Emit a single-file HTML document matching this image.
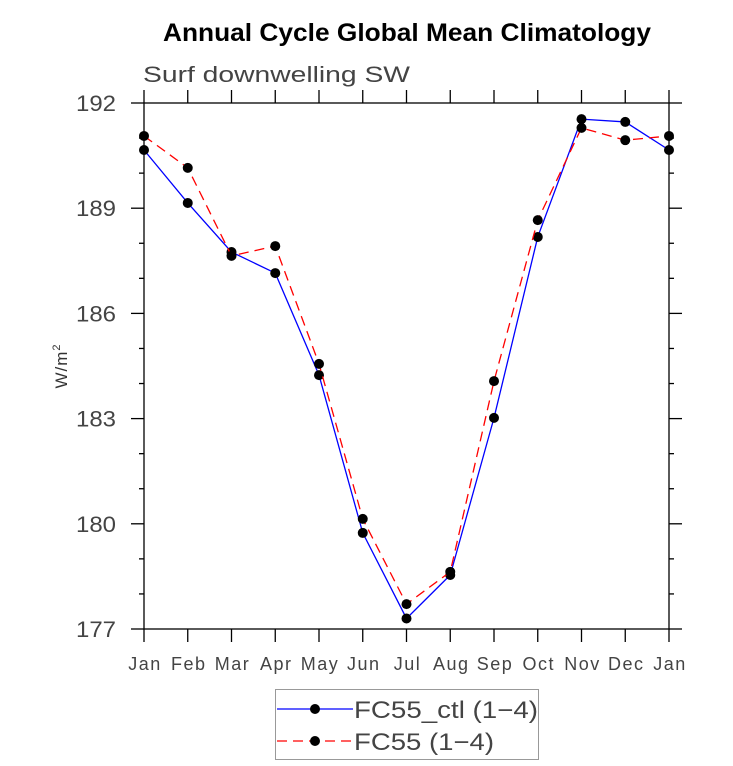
<!DOCTYPE html>
<html><head><meta charset="utf-8"><style>
html,body{margin:0;padding:0;background:#fff;}
svg{display:block;font-family:"Liberation Sans",sans-serif;}
</style></head><body>
<svg id="chart" width="733" height="766">
<text x="407" y="41" text-anchor="middle" font-size="25" font-weight="bold" textLength="488" lengthAdjust="spacingAndGlyphs">Annual Cycle Global Mean Climatology</text>
<text x="143" y="82" font-size="22" fill="#444" textLength="267" lengthAdjust="spacingAndGlyphs">Surf downwelling SW</text>
<text transform="translate(67,366) rotate(-90)" text-anchor="middle" font-size="17" fill="#333" letter-spacing="1">W/m<tspan font-size="11" dy="-7">2</tspan></text>
<g id="axes"></g><g id="series"></g>
<g>
<rect x="275.5" y="689.5" width="263" height="70" fill="none" stroke="#999"/>
<g>
<line x1="277" y1="709" x2="353" y2="709" stroke="#00f" stroke-width="1.3"/><circle cx="315" cy="709" r="5"/>
<text x="354" y="718" font-size="24" fill="#444" textLength="184" lengthAdjust="spacingAndGlyphs">FC55_ctl (1−4)</text></g>
<g>
<line x1="277" y1="741" x2="353" y2="741" stroke="#f00" stroke-width="1.3" stroke-dasharray="10,6"/><circle cx="315" cy="741" r="5"/>
<text x="354" y="750" font-size="24" fill="#444" textLength="140" lengthAdjust="spacingAndGlyphs">FC55 (1−4)</text></g>
</g>
</svg>
<script>
const months=["Jan","Feb","Mar","Apr","May","Jun","Jul","Aug","Sep","Oct","Nov","Dec","Jan"];
const ctlValues=[190.66,189.15,187.75,187.15,184.24,179.74,177.3,178.54,183.02,188.18,191.54,191.46,190.66];
const fc55Values=[191.06,190.15,187.64,187.92,184.56,180.14,177.71,178.63,184.07,188.66,191.29,190.94,191.06];
const yTicks=[177,180,183,186,189,192];
const NS="http://www.w3.org/2000/svg";
const X0=144,X1=669,Y0=629,Y1=103,ymin=177,ymax=192;
const xs=i=>X0+(X1-X0)*i/(months.length-1);
const ys=v=>Y0-(v-ymin)*(Y0-Y1)/(ymax-ymin);
function mk(tag,attrs,parent){const e=document.createElementNS(NS,tag);for(const k in attrs)e.setAttribute(k,attrs[k]);parent.appendChild(e);return e;}
const ax=document.getElementById('axes');
const frame=mk('rect',{x:X0,y:Y1,width:X1-X0,height:Y0-Y1,fill:'none',stroke:'#000','stroke-width':1.3},ax);


months.forEach((m,i)=>{const x=xs(i);
mk('line',{x1:x,y1:Y0,x2:x,y2:Y0+13,stroke:'#000','stroke-width':1.3},ax);
mk('line',{x1:x,y1:Y1,x2:x,y2:Y1-13,stroke:'#000','stroke-width':1.3},ax);
const t=mk('text',{x:x+1,y:Y0+41,'text-anchor':'middle','font-size':18,'letter-spacing':1.5,fill:'#444'},ax);t.textContent=m;

});
for(let v=ymin;v<=ymax;v++){const y=ys(v);const major=yTicks.includes(v);const L=major?13:5;
mk('line',{x1:X0-L,y1:y,x2:X0,y2:y,stroke:'#000','stroke-width':1.3},ax);
mk('line',{x1:X1,y1:y,x2:X1+L,y2:y,stroke:'#000','stroke-width':1.3},ax);}
yTicks.forEach(v=>{const t=mk('text',{x:116,y:ys(v)+8,'text-anchor':'end','font-size':22,fill:'#444',textLength:40,lengthAdjust:'spacingAndGlyphs'},ax);t.textContent=v;

});
const sg=document.getElementById('series');
function series(vals,color,dash,name){const g=mk('g',{},sg);


const a={points:vals.map((v,i)=>xs(i)+','+ys(v)).join(' '),fill:'none',stroke:color,'stroke-width':1.3};if(dash)a['stroke-dasharray']=dash;mk('polyline',a,g);
vals.forEach((v,i)=>{const c=mk('circle',{cx:xs(i),cy:ys(v),r:5,fill:'#000'},g);

});}
series(ctlValues,'#00f',null,'series-fc55-ctl');
series(fc55Values,'#f00','10,6','series-fc55');
</script>
</body></html>
